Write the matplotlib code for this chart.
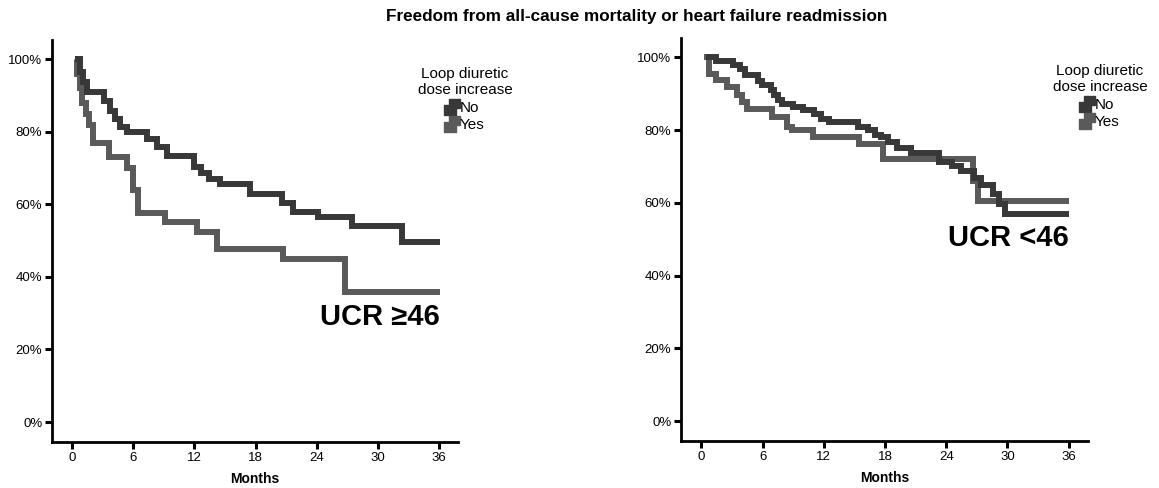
import matplotlib
matplotlib.use("Agg")
import matplotlib.pyplot as plt
from matplotlib.lines import Line2D
from matplotlib.path import Path

plt.rcParams['font.family'] = ['Liberation Sans', 'DejaVu Sans']

TITLE = "Freedom from all-cause mortality or heart failure readmission"
X_LABEL = "Months"
X_TICKS = [0, 6, 12, 18, 24, 30, 36]
Y_TICKS = [0, 20, 40, 60, 80, 100]
LEGEND_TITLE = "Loop diuretic\ndose increase"
GROUPS = ["No", "Yes"]

# Left panel: UCR >=46  (time in months, survival in %; step "post")
left_no_t = [0.3, 0.7, 1.0, 1.4, 3.1, 3.7, 4.2, 4.7, 5.4, 7.3, 8.3, 9.3, 12.0, 12.6,
             13.4, 14.5, 17.5, 20.6, 21.7, 24.1, 27.5, 32.4, 36.1]
left_no_s = [100, 96.4, 93.6, 90.9, 88.4, 85.6, 83.4, 81.2, 79.8, 77.9, 75.7, 73.2, 70.4, 68.6,
             67.0, 65.6, 62.9, 60.5, 58.0, 56.4, 53.9, 49.7, 49.7]
left_yes_t = [0.3, 0.5, 0.7, 0.9, 1.3, 1.6, 2.0, 3.6, 5.4, 6.0, 6.4, 9.1, 12.2, 14.2,
              20.7, 26.8, 36.1]
left_yes_s = [100, 96.0, 92.0, 88.0, 85.0, 82.0, 77.0, 73.0, 70.0, 64.0, 57.7, 55.2, 52.5, 47.8,
              44.8, 35.9, 35.9]

# Right panel: UCR <46
right_no_t = [0.4, 1.4, 3.1, 3.8, 4.3, 5.5, 5.9, 6.8, 7.1, 7.5, 7.9, 9.0, 10.0, 11.0, 11.7,
              12.5, 15.3, 16.3, 17.0, 17.6, 18.3, 19.2, 20.5, 23.3, 24.6, 25.4, 26.7, 27.4,
              28.6, 29.2, 29.8, 36.0]
right_no_s = [100, 99.0, 98.0, 96.7, 95.0, 93.5, 92.3, 91.0, 89.6, 88.3, 87.2, 86.3, 85.5, 84.4, 83.0,
              82.2, 80.9, 80.0, 78.7, 78.0, 76.8, 75.0, 73.6, 71.3, 70.0, 68.6, 66.7, 65.0,
              62.3, 59.6, 56.8, 56.8]
right_yes_t = [0.3, 0.7, 1.4, 2.5, 3.5, 4.0, 4.5, 6.9, 8.4, 8.9, 10.9, 15.4, 17.8, 26.6, 27.1, 36.0]
right_yes_s = [100, 95.4, 93.7, 91.8, 89.6, 87.7, 85.8, 83.5, 80.9, 79.9, 78.0, 76.2, 71.9, 66.0, 60.4, 60.4]

PANEL_LABELS = ["UCR \u226546", "UCR <46"]
COLORS = {"No": "#383838", "Yes": "#5a5a5a"}

fig = plt.figure(figsize=(11.59, 4.88), dpi=100)
ax_l = fig.add_axes([0.0449, 0.0943, 0.3503, 0.8238])
ax_r = fig.add_axes([0.5876, 0.0963, 0.3512, 0.8258])

step_marker = Path([(-1, -1), (0.55, -1), (0.55, -0.15), (1, -0.15), (1, 1),
                    (-0.45, 1), (-0.45, 0.2), (-1, 0.2), (-1, -1)],
                   [Path.MOVETO] + [Path.LINETO] * 7 + [Path.CLOSEPOLY])

panels = [
    (ax_l, (left_no_t, left_no_s), (left_yes_t, left_yes_s), PANEL_LABELS[0], (36.1, 29.0),
     (465 / 1159, 1 - 67 / 488)),
    (ax_r, (right_no_t, right_no_s), (right_yes_t, right_yes_s), PANEL_LABELS[1], (36.0, 50.3),
     (1100 / 1159, 1 - 64 / 488)),
]

for ax, no, yes, lab, labpos, legpos in panels:
    ax.step(yes[0], yes[1], where='post', color=COLORS["Yes"], lw=4.3,
            solid_joinstyle='miter', solid_capstyle='butt', zorder=2)
    ax.step(no[0], no[1], where='post', color=COLORS["No"], lw=4.3,
            solid_joinstyle='miter', solid_capstyle='butt', zorder=3)
    ax.set_xlim(-2.0, 37.9)
    ax.set_ylim(-5.5, 105.3)
    ax.set_xticks(X_TICKS)
    ax.set_xticklabels([str(t) for t in X_TICKS], fontsize=9.5)
    ax.set_yticks(Y_TICKS)
    ax.set_yticklabels([f"{t}%" for t in Y_TICKS], fontsize=9.5)
    for s in ['top', 'right']:
        ax.spines[s].set_visible(False)
    for s in ['left', 'bottom']:
        ax.spines[s].set_linewidth(2.0)
        ax.spines[s].set_color('black')
    ax.tick_params(axis='both', direction='out', length=5, width=2.2, color='black', pad=2)
    ax.set_xlabel(X_LABEL, fontsize=10, fontweight='bold', labelpad=6)
    ax.text(labpos[0], labpos[1], lab, ha='right', va='center', fontsize=21,
            fontweight='bold', color='black')
    handles = [Line2D([], [], ls='none', marker=step_marker, markersize=11,
                      markerfacecolor=COLORS[g], markeredgecolor=COLORS[g]) for g in GROUPS]
    leg = fig.legend(handles, GROUPS, title=LEGEND_TITLE, loc='upper center',
                     bbox_to_anchor=legpos, bbox_transform=fig.transFigure,
                     frameon=False, fontsize=11, title_fontsize=11,
                     handlelength=0.8, handletextpad=0.1, labelspacing=0.2,
                     borderpad=0, borderaxespad=0, alignment='center')
    leg.get_title().set_multialignment('center')
    leg._legend_box.sep = 3

fig.text(637 / 1159, 1 - 17 / 488, TITLE, ha='center', va='center', fontsize=12.3,
         fontweight='bold')

fig.savefig("out.png", dpi=100)
